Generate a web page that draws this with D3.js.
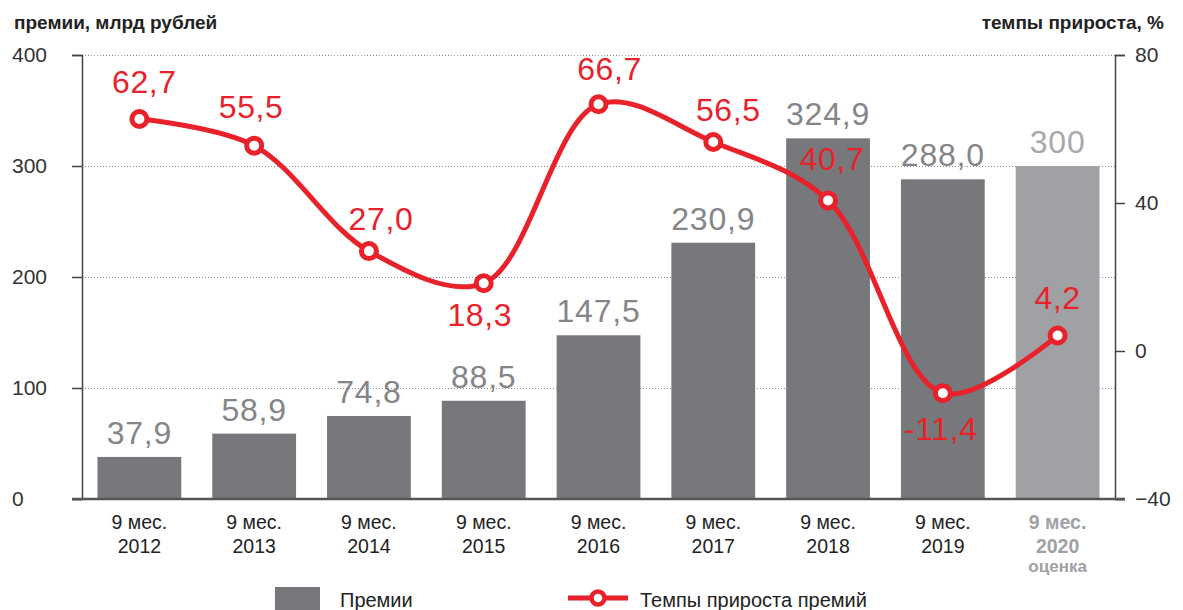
<!DOCTYPE html>
<html>
<head>
<meta charset="utf-8">
<script src="https://cdn.jsdelivr.net/npm/d3@7"></script>
<style>
  body { margin: 0; background: #fff; }
  text { font-family: "Liberation Sans", Arial, sans-serif; }
</style>
</head>
<body>
<div id="chart"></div>
<script>
var periods = ["2012", "2013", "2014", "2015", "2016", "2017", "2018", "2019", "2020"];
var premiums = [37.9, 58.9, 74.8, 88.5, 147.5, 230.9, 324.9, 288.0, 300];
var premiumLabels = ["37,9", "58,9", "74,8", "88,5", "147,5", "230,9", "324,9", "288,0", "300"];
var growth = [62.7, 55.5, 27.0, 18.3, 66.7, 56.5, 40.7, -11.4, 4.2];
var growthLabels = ["62,7", "55,5", "27,0", "18,3", "66,7", "56,5", "40,7", "-11,4", "4,2"];
var leftTicks = [0, 100, 200, 300, 400];
var rightTicks = [-40, 0, 40, 80];

var width = 1183, height = 610;
var plotLeft = 82, plotRight = 1115, plotTop = 55, plotBottom = 499;

var red = "#e8212b",
	barColor = "#77787b",
	estColor = "#a0a1a4";

var svg = d3.select("#chart")
	.append("svg")
	.attr("width", width)
	.attr("height", height);

var x = d3.scaleBand().domain(periods).range([plotLeft, plotRight]).paddingInner(0.27).paddingOuter(0.135);
var yL = d3.scaleLinear().domain([0, 400]).range([plotBottom, plotTop]);
var yR = d3.scaleLinear().domain([-40, 80]).range([plotBottom, plotTop]);
var cx = function(i){ return x(periods[i]) + x.bandwidth() / 2; };

// dotted grid
svg.append("g").selectAll("line")
	.data(leftTicks.filter(function(d){ return d > 0; }))
	.enter().append("line")
	.attr("x1", plotLeft).attr("x2", plotRight)
	.attr("y1", function(d){ return yL(d) + 0.5; })
	.attr("y2", function(d){ return yL(d) + 0.5; })
	.attr("stroke", "#888")
	.attr("stroke-width", 1)
	.attr("stroke-dasharray", "1,2");

// bars
svg.append("g").selectAll("rect")
	.data(premiums)
	.enter().append("rect")
	.attr("x", function(d, i){ return x(periods[i]); })
	.attr("width", x.bandwidth())
	.attr("y", function(d){ return yL(d); })
	.attr("height", function(d){ return plotBottom - yL(d); })
	.attr("fill", function(d, i){ return i == periods.length - 1 ? estColor : barColor; });

svg.append("g").selectAll("text")
	.data(premiums)
	.enter().append("text")
	.attr("x", function(d, i){ return cx(i); })
	.attr("y", function(d){ return yL(d) - 13; })
	.attr("text-anchor", "middle")
	.attr("font-size", 32)
	.attr("letter-spacing", 0.8)
	.attr("fill", function(d, i){ return i == periods.length - 1 ? "#a8a9ac" : "#848588"; })
	.text(function(d, i){ return premiumLabels[i]; });

// axes
var leftAxis = d3.axisLeft(yL).tickValues(leftTicks).tickSize(10).tickPadding(16).tickFormat(d3.format("d"));
var gl = svg.append("g").attr("transform", "translate(" + plotLeft + ",0)").call(leftAxis);
var rightAxis = d3.axisRight(yR).tickValues(rightTicks).tickSize(10).tickPadding(10).tickFormat(d3.format("d"));
var gr = svg.append("g").attr("transform", "translate(" + plotRight + ",0)").call(rightAxis);
[gl, gr].forEach(function(g){
	g.select(".domain").attr("stroke", "#444").attr("stroke-width", 1.5);
	g.selectAll(".tick line").attr("stroke", "#444").attr("stroke-width", 1.5);
	g.selectAll(".tick text").attr("font-size", 21).attr("fill", "#333")
		.attr("font-family", "Liberation Sans, Arial, sans-serif");
});
gl.selectAll(".tick text").attr("text-anchor", "start").attr("x", -70);

// baseline
svg.append("line")
	.attr("x1", plotLeft - 10).attr("x2", plotRight + 10)
	.attr("y1", plotBottom).attr("y2", plotBottom)
	.attr("stroke", "#555").attr("stroke-width", 2.5);

// x labels
var xl = svg.append("g").selectAll("g")
	.data(periods)
	.enter().append("text")
	.attr("text-anchor", "middle")
	.attr("font-size", 19.5)
	.attr("fill", function(d, i){ return i == periods.length - 1 ? estColor : "#222"; })
	.attr("font-weight", function(d, i){ return i == periods.length - 1 ? "bold" : "normal"; });
xl.append("tspan")
	.attr("x", function(d){ return x(d) + x.bandwidth() / 2; })
	.attr("y", 529)
	.text("9 мес.");
xl.append("tspan")
	.attr("x", function(d){ return x(d) + x.bandwidth() / 2; })
	.attr("y", 553)
	.text(function(d){ return d; });
xl.filter(function(d, i){ return i == periods.length - 1; })
	.append("tspan")
	.attr("x", function(d){ return x(d) + x.bandwidth() / 2; })
	.attr("y", 572)
	.attr("font-size", 17)
	.text("оценка");

// growth line
var line = d3.line()
	.x(function(d, i){ return cx(i); })
	.y(function(d){ return yR(d); })
	.curve(d3.curveCatmullRom.alpha(0.5));

svg.append("path")
	.datum(growth)
	.attr("d", line)
	.attr("fill", "none")
	.attr("stroke", red)
	.attr("stroke-width", 5);

svg.append("g").selectAll("circle")
	.data(growth)
	.enter().append("circle")
	.attr("cx", function(d, i){ return cx(i); })
	.attr("cy", function(d){ return yR(d); })
	.attr("r", 7.5)
	.attr("fill", "#fff")
	.attr("stroke", red)
	.attr("stroke-width", 5);

// label offsets from each marker
var labelDy = [-26, -28, -21, 43, -24, -21, -30, 47, -26];
var labelDx = [5, -3, 12, -4, 11, 15, 4, -2, 0];
svg.append("g").selectAll("text")
	.data(growth)
	.enter().append("text")
	.attr("x", function(d, i){ return cx(i) + labelDx[i]; })
	.attr("y", function(d, i){ return yR(d) + labelDy[i]; })
	.attr("text-anchor", "middle")
	.attr("font-size", 32)
	.attr("letter-spacing", 0.6)
	.attr("fill", red)
	.text(function(d, i){ return growthLabels[i]; });

// titles
svg.append("text")
	.attr("x", 14).attr("y", 29)
	.attr("font-size", 19).attr("font-weight", "bold").attr("fill", "#222")
	.text("премии, млрд рублей");
svg.append("text")
	.attr("x", 1164).attr("y", 29)
	.attr("text-anchor", "end")
	.attr("font-size", 19).attr("font-weight", "bold").attr("fill", "#222")
	.text("темпы прироста, %");

// legend
var legend = svg.append("g");
legend.append("rect")
	.attr("x", 275).attr("y", 587).attr("width", 45).attr("height", 30)
	.attr("fill", barColor);
legend.append("text")
	.attr("x", 340).attr("y", 607)
	.attr("font-size", 20).attr("fill", "#222")
	.text("Премии");
legend.append("line")
	.attr("x1", 568).attr("x2", 628).attr("y1", 598).attr("y2", 598)
	.attr("stroke", red).attr("stroke-width", 5);
legend.append("circle")
	.attr("cx", 598).attr("cy", 598).attr("r", 6.5)
	.attr("fill", "#fff").attr("stroke", red).attr("stroke-width", 4.5);
legend.append("text")
	.attr("x", 640).attr("y", 607)
	.attr("font-size", 20).attr("fill", "#222")
	.text("Темпы прироста премий");
</script>
</body>
</html>
